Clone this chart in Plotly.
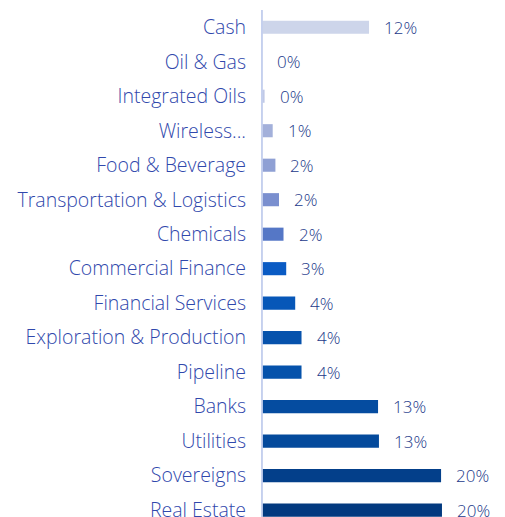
import plotly.graph_objects as go

categories = ["Cash", "Oil & Gas", "Integrated Oils", "Wireless...", "Food & Beverage",
              "Transportation & Logistics", "Chemicals", "Commercial Finance",
              "Financial Services", "Exploration & Production", "Pipeline", "Banks",
              "Utilities", "Sovereigns", "Real Estate"]
values = [11.9, 0.0, 0.3, 1.2, 1.5, 1.9, 2.4, 2.7, 3.7, 4.4, 4.4, 12.9, 13.0, 19.9, 20.0]
value_labels = ["12%", "0%", "0%", "1%", "2%", "2%", "2%", "3%", "4%", "4%", "4%",
                "13%", "13%", "20%", "20%"]
colors = ["#cdd5ea", "#c8d0ea", "#c0c9e6", "#a3b0da", "#8fa0d4", "#7a8fcf", "#5577c6",
          "#0a5bc4", "#0757b8", "#0652ac", "#0552ab", "#054ca0", "#044a9c", "#033f8a",
          "#02397f"]

fig = go.Figure()
fig.add_trace(go.Bar(
    x=values, y=list(range(len(categories))), orientation="h",
    marker=dict(color=colors, line=dict(width=0)),
    width=0.38, hoverinfo="skip",
))

for i, (v, t) in enumerate(zip(values, value_labels)):
    fig.add_annotation(x=v, y=i, text=t, showarrow=False, xanchor="left",
                       xshift=13, font=dict(family="Open Sans", size=17, weight=300,
                                            color="#23398a"))

fig.add_shape(type="line", xref="x", yref="paper", x0=0, x1=0, y0=0, y1=1,
              line=dict(color="#c5d0ee", width=2))

fig.update_layout(
    width=497, height=509,
    margin=dict(l=253, r=0, t=2, b=0),
    plot_bgcolor="white", paper_bgcolor="white",
    showlegend=False,
    xaxis=dict(range=[-0.1, 27.0], visible=False, automargin=False),
    yaxis=dict(range=[14.2, -0.5], tickmode="array",
               tickvals=list(range(len(categories))), ticktext=categories,
               showgrid=False, zeroline=False, showline=False, ticks="",
               ticklabelstandoff=14, ticklabeloverflow="allow", automargin=False,
               tickfont=dict(family="Open Sans", size=19.5, weight=300, color="#3048ac")),
)

fig.write_html("out.html")
